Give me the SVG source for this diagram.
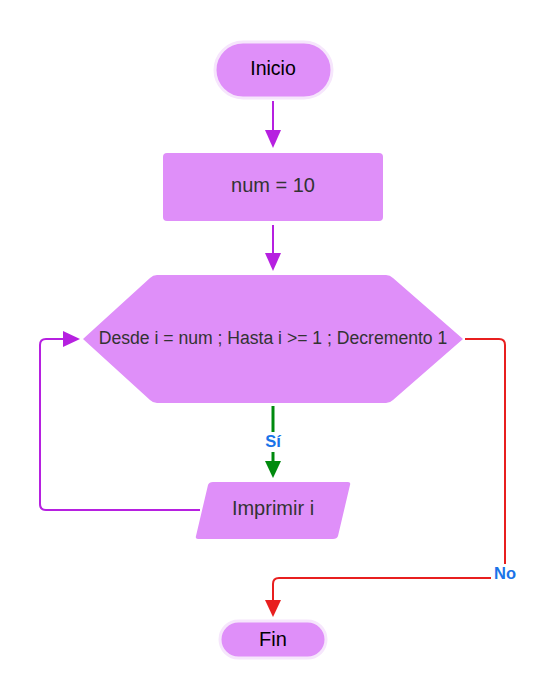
<svg xmlns="http://www.w3.org/2000/svg" width="557" height="700" viewBox="0 0 557 700">
<style>
.node{fill:#df8ff9;}
.halo{stroke:#f6e6fc;stroke-width:3;}
.t{font-family:"Liberation Sans",Arial,sans-serif;text-anchor:middle;dominant-baseline:central;}
.dark{fill:#333333;}
.blk{fill:#000000;}
.lbl{font-family:"Liberation Sans",Arial,sans-serif;font-weight:bold;font-size:16.5px;fill:#1a73e8;text-anchor:middle;dominant-baseline:central;}
.cp{fill:none;stroke:#b620e0;stroke-width:2;}
.cg{fill:none;stroke:#008a0e;stroke-width:3;}
.cr{fill:none;stroke:#e81f1f;stroke-width:2;}
</style>
<rect width="557" height="700" fill="#ffffff"/>
<g id="connectors">
<line class="cp" x1="273" y1="101" x2="273" y2="131"/>
<path d="M265,130 L281,130 L273,148 z" fill="#b620e0"/>
<line class="cp" x1="273" y1="225" x2="273" y2="254"/>
<path d="M265,253 L281,253 L273,271 z" fill="#b620e0"/>
<line class="cg" x1="273" y1="406" x2="273" y2="432"/>
<line class="cg" x1="273" y1="452" x2="273" y2="462"/>
<path d="M265,461 L281,461 L273,478 z" fill="#008a0e"/>
<path class="cp" d="M200,510 L46,510 Q40,510 40,504 L40,345 Q40,339 46,339 L64,339"/>
<path d="M63,331 L80,339 L63,347 z" fill="#b620e0"/>
<path class="cr" d="M465,339 L499,339 Q505,339 505,345 L505,578 L279,578 Q273,578 273,584 L273,601"/>
<path d="M265,600 L281,600 L273,617 z" fill="#e81f1f"/>
<rect x="491" y="564" width="28" height="18" fill="#ffffff"/>
<text class="lbl" x="505" y="573">No</text>
<text class="lbl" x="273" y="441">Sí</text>
</g>
<g id="inicio">
<rect class="node halo" x="215" y="42" width="117" height="56" rx="28"/>
<text class="t blk" x="273" y="68" font-size="19.5">Inicio</text>
</g>
<g id="num">
<rect class="node" x="163" y="153" width="220" height="68" rx="4"/>
<text class="t dark" x="273" y="185" font-size="20">num = 10</text>
</g>
<g id="desde">
<path class="node" d="M83,339 L150,278 Q153,275 157,275 L386,275 Q390,275 393,278 L463,339 L393,400 Q390,403 386,403 L157,403 Q153,403 150,400 Z"/>
<text class="t dark" x="273" y="338" font-size="17.6">Desde i = num ; Hasta i &gt;= 1 ; Decremento 1</text>
</g>
<g id="imprimir">
<path class="node" d="M213,482 L348,482 Q351,482 350,485 L338,536 Q337,539 333,539 L198,539 Q195,539 196,536 L208,485 Q209,482 213,482 Z"/>
<text class="t dark" x="273" y="508" font-size="20">Imprimir i</text>
</g>
<g id="fin">
<rect class="node halo" x="220" y="621" width="106" height="37" rx="18.5"/>
<text class="t blk" x="273" y="639" font-size="20">Fin</text>
</g>
</svg>
